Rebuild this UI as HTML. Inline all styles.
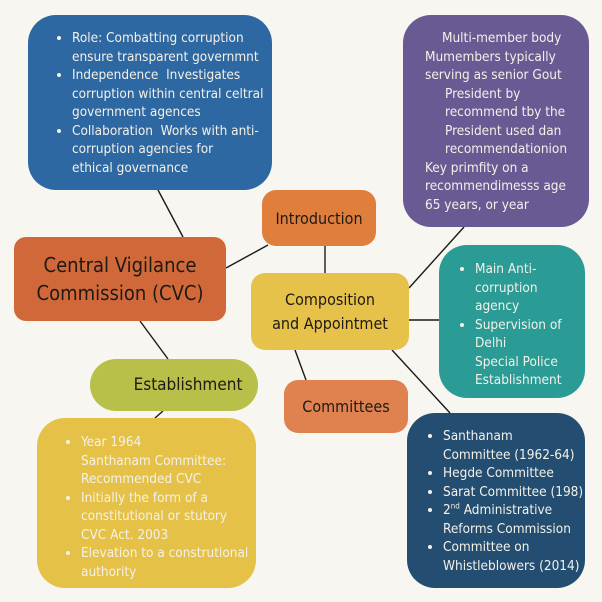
<!DOCTYPE html><html><head><style>
body{margin:0;width:602px;height:602px;background:#f8f6f1;position:relative;overflow:hidden;font-family:"DejaVu Sans Condensed","Liberation Sans",sans-serif}
.b{position:absolute;box-sizing:border-box;border-radius:28px}
.t{color:#f4f1e8;font-size:13.5px;line-height:18.5px;white-space:nowrap}
ul{margin:0;padding:0 0 0 18px}
.h{display:flex;align-items:center;justify-content:center;text-align:center;color:#1e1a14;border-radius:14px}
svg{position:absolute;left:0;top:0}
</style></head><body>
<svg width="602" height="602"><g stroke="#1a1a1a" stroke-width="1.4">
<line x1="158" y1="190" x2="183" y2="237"/><line x1="226" y1="268" x2="268" y2="245"/>
<line x1="325" y1="246" x2="325" y2="273"/><line x1="464" y1="227" x2="409" y2="288"/>
<line x1="409" y1="320" x2="439" y2="320"/><line x1="392" y1="350" x2="450" y2="413"/>
<line x1="295" y1="350" x2="306" y2="380"/><line x1="140" y1="321" x2="168" y2="359"/>
<line x1="163" y1="411" x2="155" y2="418"/></g></svg>
<div class="b t" style="left:28px;top:15px;width:244px;height:175px;background:#2e68a2;padding:14px 8px 0 26px"><ul>
<li>Role: Combatting corruption<br>ensure transparent governmnt</li>
<li>Independence&nbsp; Investigates<br>corruption within central celtral<br>government agences</li>
<li>Collaboration&nbsp; Works with anti-<br>corruption agencies for<br>ethical governance</li></ul></div>
<div class="b t" style="left:403px;top:15px;width:186px;height:212px;background:#6a5a93;padding:14px 4px 0 22px">
<div style="padding-left:17px">Multi-member body</div>
<div>Mumembers typically<br>serving as senior Gout</div>
<div style="padding-left:20px">President by<br>recommend tby the<br>President used dan<br>recommendationion</div>
<div>Key primfity on a<br>recommendimesss age<br>65 years, or year</div></div>
<div class="b h" style="left:14px;top:237px;width:212px;height:84px;background:#d0683a;font-size:20px;line-height:28px;border-radius:12px">Central Vigilance<br>Commission (CVC)</div>
<div class="b h" style="left:262px;top:190px;width:114px;height:56px;background:#e07e3c;font-size:16px">Introduction</div>
<div class="b h" style="left:251px;top:273px;width:158px;height:77px;background:#e6c24a;font-size:16px;line-height:24px">Composition<br>and Appointmet</div>
<div class="b t" style="left:439px;top:245px;width:146px;height:153px;background:#2a9b95;padding:15px 4px 0 18px"><ul>
<li>Main Anti-<br>corruption<br>agency</li><li>Supervision of<br>Delhi<br>Special Police<br>Establishment</li></ul></div>
<div class="b h" style="left:90px;top:359px;width:168px;height:52px;background:#b8c04a;font-size:17px;border-radius:26px;padding-left:28px">Establishment</div>
<div class="b h" style="left:284px;top:380px;width:124px;height:53px;background:#e0824f;font-size:16px">Committees</div>
<div class="b t" style="left:37px;top:418px;width:219px;height:170px;background:#e5c247;padding:15px 6px 0 26px"><ul>
<li>Year 1964<br>Santhanam Committee:<br>Recommended CVC</li>
<li>Initially the form of a<br>constitutional or stutory<br>CVC Act. 2003</li>
<li>Elevation to a construtional<br>authority</li></ul></div>
<div class="b t" style="left:407px;top:413px;width:178px;height:175px;background:#234e71;padding:14px 4px 0 18px"><ul>
<li>Santhanam<br>Committee (1962-64)</li><li>Hegde Committee</li><li>Sarat Committee (198)</li>
<li>2<sup style="font-size:8px;line-height:0">nd</sup> Administrative<br>Reforms Commission</li><li>Committee on<br>Whistleblowers (2014)</li></ul></div>
</body></html>
